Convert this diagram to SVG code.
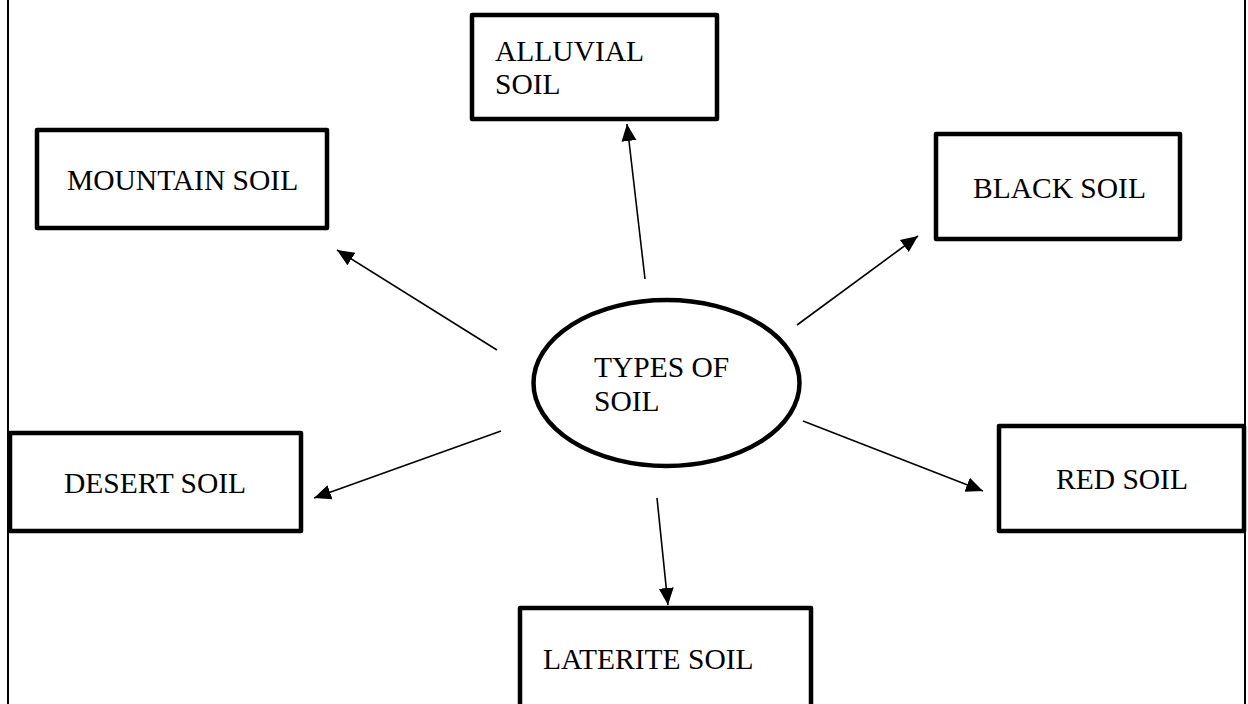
<svg xmlns="http://www.w3.org/2000/svg" width="1248" height="704" viewBox="0 0 1248 704">
<style>
.box{fill:#fff;stroke:#000;stroke-width:4.5;stroke-linejoin:round}
.t{font-family:"Liberation Serif","Times New Roman",serif;font-size:29.5px;fill:#000}
.c{stroke:#000;stroke-width:1.6;fill:none}
</style>
<defs>
<marker id="ah" markerUnits="userSpaceOnUse" markerWidth="20" markerHeight="20" viewBox="0 0 20 20" refX="17" refY="10" orient="auto">
<path d="M0,2.5 L17,10 L0,17.5 Z" fill="#000"/>
</marker>
</defs>
<rect width="1248" height="704" fill="#fff"/>
<g id="frame">
<line x1="8" y1="0" x2="8" y2="704" stroke="#000" stroke-width="2"/>
<line x1="1245" y1="0" x2="1245" y2="704" stroke="#000" stroke-width="2"/>
</g>
<g id="connectors">
<line class="c" x1="645" y1="279" x2="627" y2="124" marker-end="url(#ah)"/>
<line class="c" x1="497" y1="350" x2="337" y2="250" marker-end="url(#ah)"/>
<line class="c" x1="797" y1="325" x2="918" y2="236" marker-end="url(#ah)"/>
<line class="c" x1="501" y1="431" x2="314" y2="498" marker-end="url(#ah)"/>
<line class="c" x1="803" y1="421" x2="983" y2="491" marker-end="url(#ah)"/>
<line class="c" x1="657" y1="498" x2="668" y2="605" marker-end="url(#ah)"/>
</g>
<g id="center">
<ellipse cx="666.5" cy="383" rx="133" ry="83" fill="#fff" stroke="#000" stroke-width="4.5"/>
<text class="t" x="594" y="377">TYPES OF</text>
<text class="t" x="594" y="411">SOIL</text>
</g>
<g id="alluvial">
<rect class="box" x="472" y="15" width="245" height="104"/>
<text class="t" x="495" y="61">ALLUVIAL</text>
<text class="t" x="495" y="94">SOIL</text>
</g>
<g id="mountain">
<rect class="box" x="37" y="130" width="290" height="98"/>
<text class="t" x="67" y="190">MOUNTAIN SOIL</text>
</g>
<g id="black">
<rect class="box" x="936" y="134" width="244" height="105"/>
<text class="t" x="973" y="198">BLACK SOIL</text>
</g>
<g id="desert">
<rect class="box" x="10" y="433" width="291" height="98"/>
<text class="t" x="64" y="493">DESERT SOIL</text>
</g>
<g id="red">
<rect class="box" x="999" y="426" width="245" height="105"/>
<text class="t" x="1056" y="489">RED SOIL</text>
</g>
<g id="laterite">
<rect class="box" x="520" y="608" width="291" height="110"/>
<text class="t" x="543" y="669">LATERITE SOIL</text>
</g>
</svg>
